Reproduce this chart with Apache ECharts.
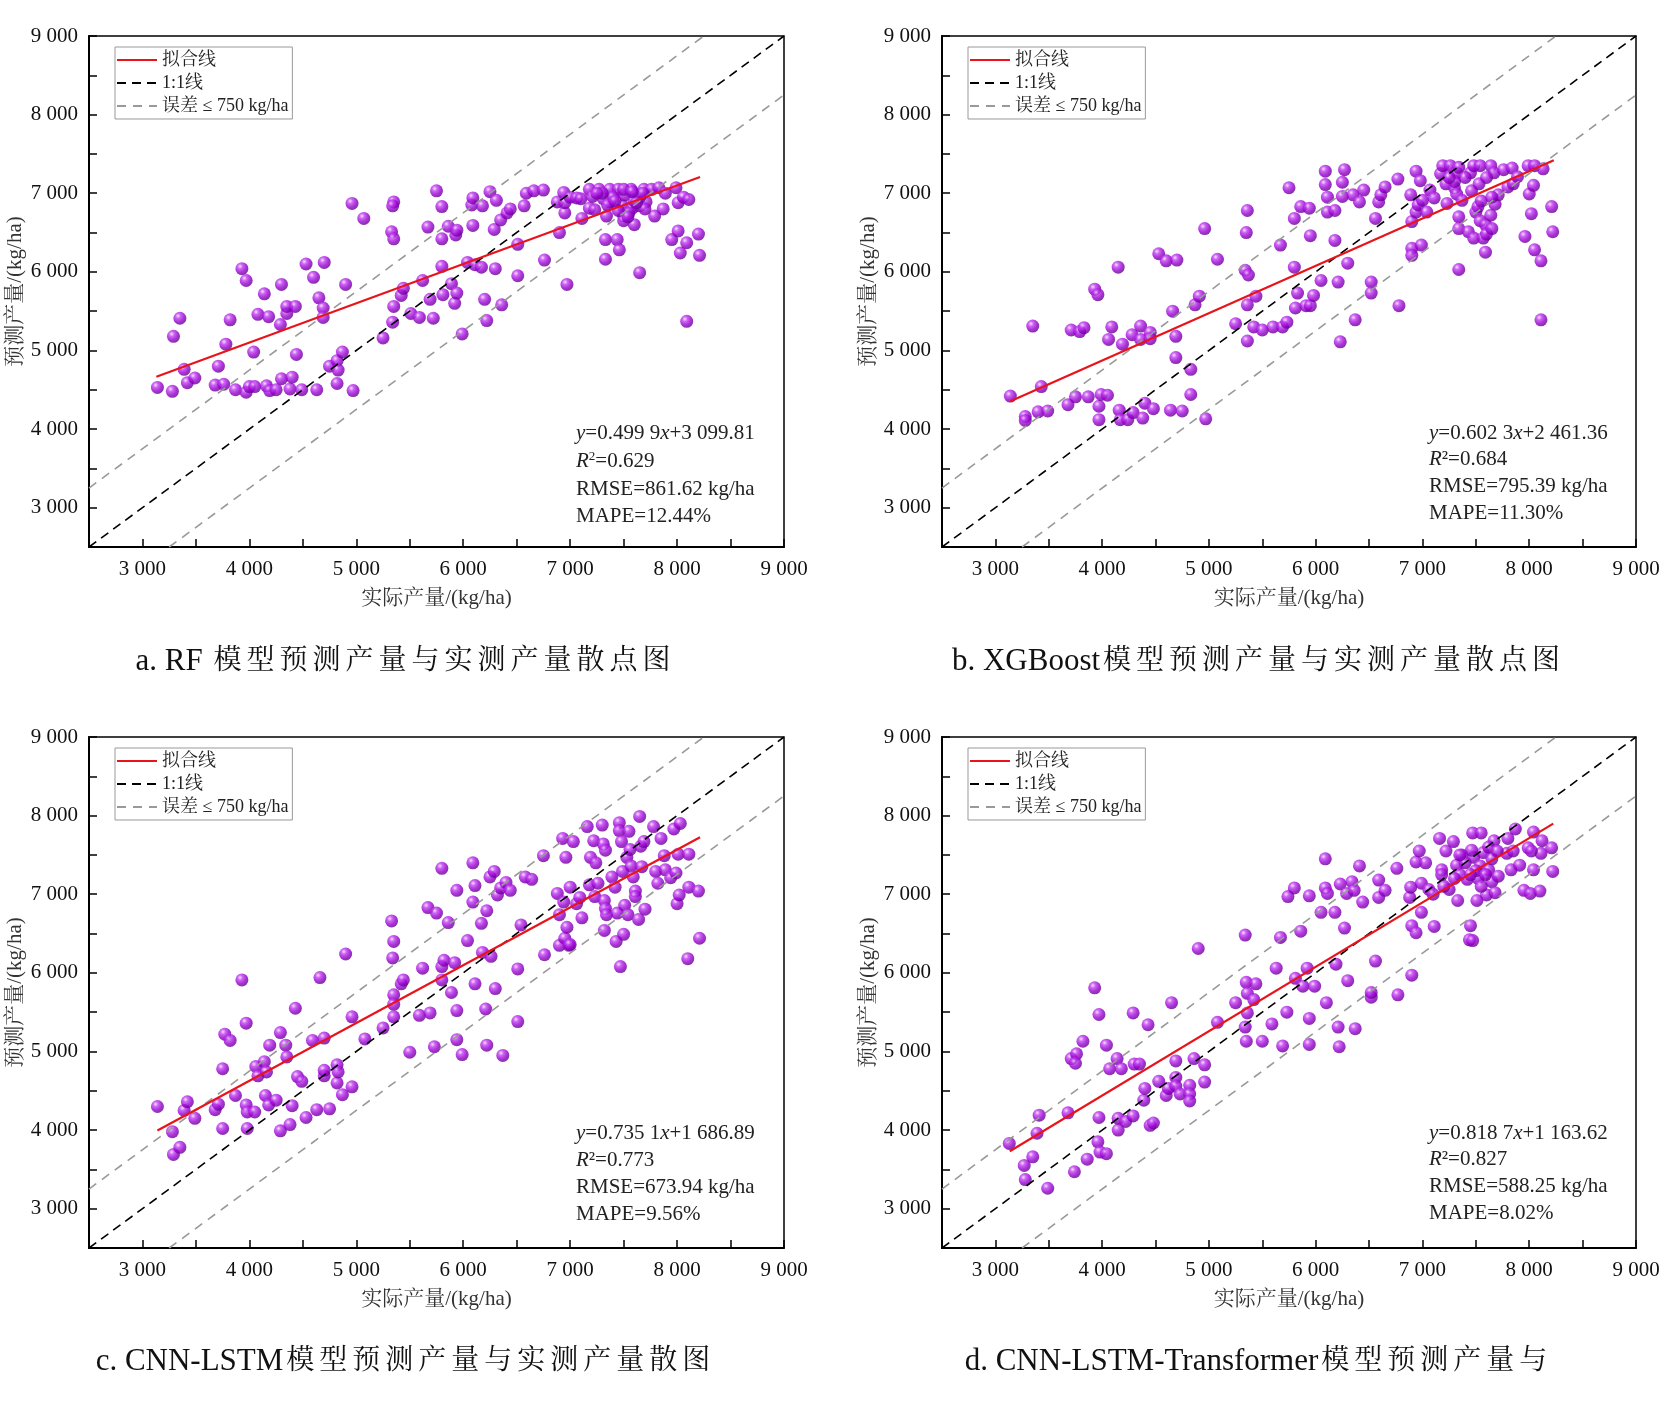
<!DOCTYPE html>
<html>
<head>
<meta charset="UTF-8">
<title>预测产量与实测产量散点图</title>
<script src="https://cdn.jsdelivr.net/npm/echarts@6/dist/echarts.min.js"></script>
<style>
    body, html {
        margin: 0;
        padding: 0;
        background: #fff;
    }

    #chart {
        width: 1665px;
        height: 1401px;
    }
</style>
</head>
<body>
<div id="chart"></div>
<script>
    var rfPoints = [
        [3140,4530],[3280,4480],[3290,5180],[3350,5410],[3390,4760],[3420,4590],[3490,4650],[3680,4560],[3710,4800],[3760,4570],
        [3780,5080],[3820,5390],[3870,4500],[3930,6040],[3970,5890],[3970,4470],[4000,4540],[4040,4980],[4050,4540],[4080,5460],
        [4140,5720],[4160,4550],[4180,5430],[4190,4490],[4250,4500],[4290,5330],[4300,5840],[4300,4640],[4350,5470],[4350,5560],
        [4380,4510],[4400,4660],[4430,5560],[4440,4950],[4490,4500],[4530,6100],[4600,5930],[4630,4500],[4650,5670],[4690,5540],
        [4690,5420],[4700,6120],[4750,4800],[4820,4580],[4820,4870],[4830,4750],[4870,4980],[4900,5840],[4960,6870],[4970,4490],
        [5070,6680],[5250,5160],[5330,6510],[5350,6420],[5350,6890],[5340,6840],[5340,5360],[5350,5560],[5420,5700],[5440,5790],
        [5510,5470],[5590,5420],[5620,5890],[5670,6570],[5690,5650],[5720,5410],[5750,7030],[5800,6830],[5800,6420],[5800,6070],
        [5810,5710],[5860,6580],[5890,5850],[5920,5600],[5940,5730],[5930,6470],[5940,6530],[5990,5210],[6040,6120],[6090,6590],
        [6080,6850],[6090,6940],[6110,6090],[6170,6060],[6180,6840],[6200,5650],[6220,5380],[6250,7020],[6290,6540],[6300,6040],
        [6310,6910],[6360,5580],[6350,6660],[6410,6750],[6440,6800],[6510,5950],[6510,6350],[6570,6840],[6590,7000],[6660,7030],
        [6760,6150],[6750,7040],[6880,6890],[6900,6500],[6940,7010],[6950,6750],[6950,6880],[6970,5840],[7000,6950],[7060,6940],
        [7110,6680],[7100,6930],[7180,7050],[7180,6810],[7210,6960],[7230,6790],[7270,7050],[7310,6930],[7330,6410],[7330,6160],
        [7340,6710],[7370,7050],[7370,6890],[7440,6410],[7460,6280],[7450,7050],[7490,6840],[7500,6710],[7510,6980],[7570,7050],
        [7580,6810],[7600,6600],[7620,6980],[7650,5990],[7650,6840],[7690,7050],[7710,6890],[7760,7050],[7790,6710],[7830,7070],
        [7870,6800],[7890,7000],[7950,6410],[7990,7070],[8010,6880],[8010,6520],[8030,6240],[8060,6950],[8090,6370],[8090,5370],
        [8110,6920],[8200,6480],[8210,6210],[7550,6750],[7500,6650],[7600,6900],[7400,6950],[7300,7000],[7650,6950],[7700,6800],
        [7450,6780],[7350,6850],[7250,7000],[7540,6700],[7620,6880],[7500,7050],[7680,7000],[7420,6900],[7580,7020]
    ];
    var xgbPoints = [
        [3140,4420],[3280,4160],[3280,4110],[3350,5310],[3400,4220],[3430,4540],[3490,4230],[3680,4310],[3710,5260],[3750,4410],
        [3790,5240],[3830,5290],[3870,4410],[3930,5780],[3960,5710],[3970,4290],[3970,4120],[3990,4440],[4050,4430],[4060,5140],
        [4090,5300],[4150,6060],[4160,4240],[4170,4120],[4190,5080],[4240,4120],[4280,5200],[4290,4210],[4360,5310],[4360,5140],
        [4380,4140],[4400,4330],[4450,5230],[4450,5150],[4480,4260],[4530,6230],[4600,6140],[4640,4240],[4660,5500],[4700,6150],
        [4690,5180],[4690,4910],[4750,4230],[4830,4760],[4830,4440],[4870,5580],[4910,5690],[4960,6550],[4970,4130],[5080,6160],
        [5250,5340],[5340,6020],[5350,6500],[5360,6780],[5370,5960],[5360,5580],[5360,5120],[5420,5300],[5440,5690],[5500,5260],
        [5600,5300],[5670,6340],[5690,5300],[5730,5360],[5750,7070],[5800,6680],[5800,6060],[5810,5540],[5830,5730],[5860,6830],
        [5910,5570],[5940,6810],[5950,6460],[5950,5570],[5980,5700],[6050,5890],[6090,7280],[6090,7110],[6110,6950],[6110,6760],
        [6180,6400],[6180,6780],[6210,5870],[6230,5110],[6250,7140],[6250,6960],[6270,7300],[6300,6110],[6350,6980],[6370,5390],
        [6410,6890],[6450,7040],[6520,5870],[6520,5730],[6560,6680],[6590,6890],[6610,6980],[6650,7080],[6770,7180],[6780,5570],
        [6890,6980],[6900,6300],[6900,6640],[6900,6210],[6940,7280],[6940,6760],[6960,6850],[6980,7160],[6990,6340],[7000,6910],
        [7040,6760],[7070,7040],[7110,6940],[7170,7250],[7190,7350],[7220,7120],[7230,6870],[7260,7350],[7300,7070],[7320,7260],
        [7320,6990],[7340,7330],[7340,6700],[7340,6550],[7340,6030],[7370,6910],[7430,6510],[7450,7260],[7460,7030],[7480,6430],
        [7480,7350],[7500,6760],[7520,6830],[7530,7120],[7540,7350],[7540,6650],[7570,6430],[7590,6250],[7590,6600],[7600,6480],
        [7640,7350],[7640,6720],[7650,6550],[7670,7260],[7680,6860],[7710,6980],[7760,7300],[7800,7080],[7840,7320],[7850,7120],
        [7890,7210],[7960,6450],[7990,7350],[8000,6990],[8020,6740],[8040,7100],[8050,7350],[8050,6280],[8110,6140],[8110,5390],
        [8130,7310],[8210,6830],[8220,6510],[7400,7200],[7300,7150],[7600,7200],[7550,6900],[7650,6950],[7250,7200]
    ];
    var cnnLstmPoints = [
        [3140,4300],[3280,3980],[3290,3690],[3350,3780],[3390,4250],[3420,4360],[3490,4150],[3680,4260],[3710,4330],[3750,4780],
        [3750,4020],[3770,5220],[3820,5140],[3870,4440],[3930,5910],[3970,5360],[3970,4320],[3980,4230],[3980,4020],[4050,4230],
        [4060,4810],[4080,4690],[4140,4870],[4150,4440],[4160,4740],[4180,4320],[4190,5080],[4250,4380],[4290,3990],[4290,5240],
        [4340,5080],[4350,4930],[4380,4070],[4400,4310],[4430,5550],[4450,4680],[4490,4620],[4530,4160],[4590,5140],[4630,4260],
        [4660,5940],[4700,4690],[4700,4760],[4700,5170],[4750,4270],[4820,4830],[4820,4600],[4830,4740],[4870,4450],[4900,6240],
        [4960,4550],[4960,5440],[5080,5160],[5250,5300],[5330,6660],[5340,6190],[5350,6400],[5350,5720],[5350,5600],[5350,5440],
        [5420,5860],[5440,5910],[5500,4990],[5590,5460],[5620,6060],[5670,6830],[5690,5490],[5730,5060],[5750,6760],[5800,7330],
        [5800,6080],[5820,6160],[5800,5910],[5860,6640],[5890,5750],[5920,6130],[5940,7050],[5940,5520],[5940,5150],[5990,4960],
        [6040,6410],[6090,6900],[6090,7400],[6110,7110],[6110,5860],[6170,6630],[6180,6260],[6210,5540],[6220,5080],[6220,6790],
        [6250,7220],[6260,6210],[6290,7290],[6300,5800],[6320,6990],[6350,7080],[6370,4950],[6400,7150],[6440,7050],[6510,5380],
        [6510,6050],[6540,6610],[6580,7220],[6640,7190],[6750,7490],[6760,6230],[6880,7010],[6900,6740],[6900,6350],[6930,7710],
        [6940,6900],[6950,6440],[6960,7470],[6970,6580],[6990,6350],[7000,6360],[7000,7090],[7030,7670],[7060,6880],[7090,6960],
        [7110,6700],[7160,7860],[7180,7120],[7190,7470],[7220,7680],[7230,6970],[7240,7400],[7260,7140],[7300,7880],[7310,7640],
        [7320,6920],[7320,6540],[7330,7560],[7330,6820],[7340,6740],[7390,7220],[7420,7090],[7430,6400],[7440,6760],[7460,7910],
        [7460,7810],[7470,6080],[7480,7670],[7490,7290],[7500,6490],[7510,6860],[7530,7470],[7540,6740],[7550,7800],[7560,7570],
        [7570,7360],[7590,7220],[7610,7040],[7610,6970],[7640,6680],[7650,7990],[7660,7610],[7670,7350],[7690,7670],[7700,6810],
        [7780,7860],[7800,7290],[7820,7140],[7850,7710],[7880,7490],[7890,7310],[7940,7210],[7970,7830],[7990,7270],[8000,6880],
        [8010,7510],[8020,6990],[8030,7900],[8100,6180],[8110,7090],[8110,7510],[8200,7040],[8210,6440]
    ];
    var transformerPoints = [
        [3130,3830],[3270,3550],[3280,3370],[3350,3660],[3390,3960],[3410,4190],[3490,3260],[3680,4220],[3740,3470],[3710,4910],
        [3760,4970],[3750,4850],[3820,5130],[3860,3630],[3930,5810],[3960,3850],[3970,4160],[3970,5470],[3980,3720],[4040,3700],
        [4040,5080],[4070,4780],[4140,4910],[4150,4000],[4150,4150],[4180,4780],[4220,4110],[4290,4180],[4290,5490],[4300,4840],
        [4350,4840],[4390,4380],[4400,4530],[4430,5340],[4450,4060],[4480,4090],[4530,4620],[4600,4440],[4650,5620],[4620,4530],
        [4690,4670],[4690,4880],[4690,4560],[4730,4460],[4820,4570],[4820,4460],[4820,4370],[4860,4910],[4900,6310],[4960,4830],
        [4960,4610],[5080,5370],[5250,5620],[5340,6480],[5340,5310],[5350,5130],[5350,5880],[5360,5740],[5360,5490],[5440,5860],
        [5420,5660],[5500,5130],[5590,5350],[5630,6060],[5670,6450],[5690,5070],[5730,5500],[5740,6970],[5800,7080],[5810,5930],
        [5860,6530],[5880,5830],[5920,6060],[5940,5090],[5940,5420],[5940,6980],[5990,5830],[6050,6770],[6090,7450],[6090,7080],
        [6110,7010],[6100,5620],[6180,6770],[6190,6110],[6210,5310],[6220,5060],[6230,7130],[6270,6570],[6290,7010],[6300,5900],
        [6340,7160],[6360,7050],[6370,5290],[6410,7360],[6440,6900],[6560,6150],[6520,5690],[6520,5750],[6590,6960],[6590,7180],
        [6650,7050],[6760,7330],[6770,5720],[6880,6960],[6890,7090],[6900,5970],[6900,6600],[6940,6510],[6940,7410],[6970,7550],
        [6990,6770],[6990,7140],[7030,7400],[7060,7060],[7100,7000],[7110,6590],[7160,7710],[7180,7310],[7220,7550],[7250,7060],
        [7290,7670],[7320,7370],[7330,6920],[7350,7250],[7370,7500],[7420,7190],[7450,6600],[7440,6420],[7470,6410],[7470,7780],
        [7480,7470],[7520,7200],[7510,6920],[7550,7780],[7570,7530],[7540,7360],[7600,6990],[7620,7310],[7650,7160],[7670,7680],
        [7680,7020],[7710,7230],[7800,7710],[7790,7520],[7830,7310],[7870,7830],[7910,7370],[7950,7050],[7990,7590],[8010,7010],
        [8040,7310],[8040,7790],[8100,7040],[8110,7520],[8120,7680],[8210,7590],[8220,7290],[7400,7400],[7500,7300],[7650,7450],
        [7300,7200],[7550,7100],[7620,7600],[7700,7550],[7450,7250],[7850,7550],[7350,7500],[7200,7100],[7180,7250],[7590,7250],
        [7460,7560],[8020,7550]
    ];

    var axisRange = [2500, 9000];
    var errorBand = 750;
    var fitSlope = [0.4999, 0.6023, 0.7351, 0.8187];
    var fitIntercept = [3099.81, 2461.36, 1686.89, 1163.62];
    var fitRange = [[3130, 8215], [3140, 8230], [3140, 8215], [3135, 8225]];

    var eqTexts = ['{i|y}=0.499 9{i|x}+3 099.81', '{i|y}=0.602 3{i|x}+2 461.36',
        '{i|y}=0.735 1{i|x}+1 686.89', '{i|y}=0.818 7{i|x}+1 163.62'];
    var r2Texts = ['{i|R}{sup|2}=0.629', '{i|R}²=0.684', '{i|R}²=0.773', '{i|R}²=0.827'];
    var rmseTexts = ['RMSE=861.62 kg/ha', 'RMSE=795.39 kg/ha', 'RMSE=673.94 kg/ha', 'RMSE=588.25 kg/ha'];
    var mapeTexts = ['MAPE=12.44%', 'MAPE=11.30%', 'MAPE=9.56%', 'MAPE=8.02%'];
    var captions = ['a. RF 模型预测产量与实测产量散点图', 'b. XGBoost模型预测产量与实测产量散点图',
        'c. CNN-LSTM模型预测产量与实测产量散图', 'd. CNN-LSTM-Transformer模型预测产量与'];
    var legendNames = ['拟合线', '1:1线', '误差 ≤ 750 kg/ha'];

    var allPoints = [rfPoints, xgbPoints, cnnLstmPoints, transformerPoints];

    var serif = "'Liberation Serif', 'Noto Serif CJK SC', 'Noto Sans CJK SC', serif";
    var grids = [
        {left: 89, top: 36, width: 695, height: 511},
        {left: 942, top: 36, width: 694, height: 511},
        {left: 89, top: 737, width: 695, height: 511},
        {left: 942, top: 737, width: 694, height: 511}
    ];
    var capCenters = [[404, 662], [1257, 662], [404, 1362], [1257, 1362]];
    var noteRows = [[397, 425, 453, 480], [397, 423, 450, 477], [396, 423, 450, 477], [396, 422, 449, 476]];

    function fmt(v) {
        if (v % 1000 !== 0) return '';
        return String(v).replace(/\B(?=(\d{3})+$)/g, ' ');
    }

    // spread out CJK characters a little, like the caption typesetting
    function spaced(str) {
        var out = '', buf = '';
        for (var k = 0; k < str.length; k++) {
            var ch = str[k];
            if (/[\u4e00-\u9fff]/.test(ch)) {
                if (buf) { out += '{l|' + buf + '}'; buf = ''; }
                out += '{c|' + ch + '}';
            } else {
                buf += ch;
            }
        }
        if (buf) out += '{l|' + buf + '}';
        return out;
    }

    var ball = new echarts.graphic.RadialGradient(0.36, 0.32, 0.7, [
        {offset: 0, color: '#f6d8ff'},
        {offset: 0.28, color: '#c040f0'},
        {offset: 0.65, color: '#9800d0'},
        {offset: 1, color: '#64008e'}
    ]);

    var xAxes = [], yAxes = [], series = [], legends = [], graphics = [];

    grids.forEach(function (g, i) {
        var axisCommon = {
            gridIndex: i,
            type: 'value',
            min: axisRange[0],
            max: axisRange[1],
            interval: 500,
            axisLine: {show: true, onZero: false, lineStyle: {color: '#000', width: 2}},
            axisTick: {show: true, inside: true, length: 8, lineStyle: {color: '#000', width: 1.5}},
            axisLabel: {formatter: fmt, fontSize: 21, fontFamily: serif, color: '#111', showMaxLabel: true, showMinLabel: true},
            splitLine: {show: false},
            nameLocation: 'middle',
            nameTextStyle: {fontSize: 21, fontFamily: serif, color: '#333'}
        };
        xAxes.push(Object.assign({}, axisCommon, {
            name: '实际产量/(kg/ha)',
            nameGap: 41,
            axisLabel: Object.assign({}, axisCommon.axisLabel, {margin: 12})
        }));
        yAxes.push(Object.assign({}, axisCommon, {
            name: '预测产量/(kg/ha)',
            nameGap: 63,
            axisLabel: Object.assign({}, axisCommon.axisLabel, {margin: 11})
        }));

        var lo = axisRange[0], hi = axisRange[1];
        var hidden = {opacity: 0};
        series.push({
            type: 'scatter', name: '样本', xAxisIndex: i, yAxisIndex: i,
            data: allPoints[i], symbolSize: 13, silent: true, z: 2,
            itemStyle: {color: ball}
        });
        series.push({
            type: 'line', name: legendNames[2], xAxisIndex: i, yAxisIndex: i, symbol: 'none', silent: true, z: 3,
            data: [[lo, lo + errorBand], [hi - errorBand, hi]],
            itemStyle: hidden, lineStyle: {color: '#999', width: 1.6, type: [9, 7]}
        });
        series.push({
            type: 'line', name: legendNames[2], xAxisIndex: i, yAxisIndex: i, symbol: 'none', silent: true, z: 3,
            data: [[lo + errorBand, lo], [hi, hi - errorBand]],
            itemStyle: hidden, lineStyle: {color: '#999', width: 1.6, type: [9, 7]}
        });
        series.push({
            type: 'line', name: legendNames[1], xAxisIndex: i, yAxisIndex: i, symbol: 'none', silent: true, z: 4,
            data: [[lo, lo], [hi, hi]],
            itemStyle: hidden, lineStyle: {color: '#000', width: 1.6, type: [9, 6]}
        });
        var fx = fitRange[i];
        series.push({
            type: 'line', name: legendNames[0], xAxisIndex: i, yAxisIndex: i, symbol: 'none', silent: true, z: 5,
            data: fx.map(function (x) { return [x, fitSlope[i] * x + fitIntercept[i]]; }),
            itemStyle: hidden, lineStyle: {color: '#e8141c', width: 2.2}
        });

        legends.push({
            data: legendNames,
            orient: 'vertical',
            left: g.left + 26,
            top: g.top + 11,
            itemWidth: 40,
            itemHeight: 14,
            itemGap: 5,
            padding: [4, 4, 4, 1],
            borderColor: '#999',
            borderWidth: 1,
            selectedMode: false,
            itemStyle: {opacity: 0},
            textStyle: {fontSize: 18, fontFamily: serif, color: '#222'}
        });

        var notes = [eqTexts[i], r2Texts[i], rmseTexts[i], mapeTexts[i]];
        notes.forEach(function (t, k) {
            graphics.push({
                type: 'text',
                x: g.left + 487,
                y: g.top + noteRows[i][k],
                silent: true,
                style: {
                    text: t,
                    fill: '#222',
                    fontSize: 21,
                    fontFamily: serif,
                    align: 'left',
                    verticalAlign: 'middle',
                    rich: {
                        i: {fontSize: 21, fontFamily: serif, fontStyle: 'italic', fill: '#222'},
                        sup: {fontSize: 13, fontFamily: serif, fill: '#222', verticalAlign: 'top', padding: [0, 0, 8, 0]}
                    }
                }
            });
        });

        graphics.push({
            type: 'text',
            x: capCenters[i][0],
            y: capCenters[i][1],
            silent: true,
            style: {
                text: spaced(captions[i]),
                fill: '#111',
                align: 'center',
                verticalAlign: 'middle',
                rich: {
                    l: {fontSize: 31, fontFamily: serif, fill: '#111'},
                    c: {fontSize: 28, fontFamily: serif, fill: '#111', padding: [0, 2, 0, 3]}
                }
            }
        });
    });

    var chart = echarts.init(document.getElementById('chart'), null, {renderer: 'canvas'});
    chart.setOption({
        backgroundColor: '#fff',
        animation: false,
        grid: grids.map(function (g) {
            return Object.assign({show: true, borderColor: '#000', borderWidth: 1.5, backgroundColor: 'transparent'}, g);
        }),
        xAxis: xAxes,
        yAxis: yAxes,
        legend: legends,
        series: series,
        graphic: graphics
    });
</script>
</body>
</html>
